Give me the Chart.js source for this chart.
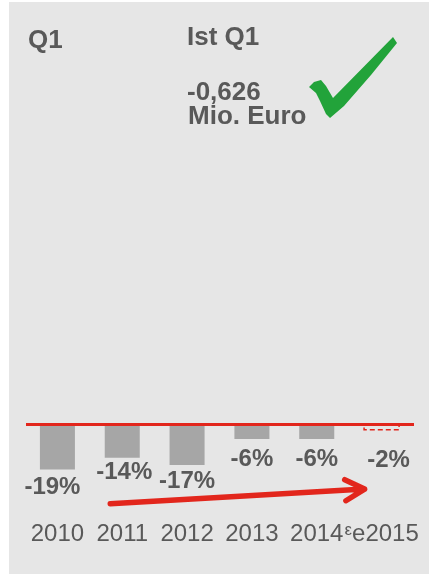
<!DOCTYPE html>
<html>
<head>
<meta charset="utf-8">
<script src="https://cdn.jsdelivr.net/npm/chart.js@4.4.0/dist/chart.umd.min.js"></script>
<style>
    html, body { margin: 0; padding: 0; background: #fff; }
    #panel { position: absolute; left: 9px; top: 2px; width: 420px; height: 572px; background: #e6e6e6; }
    #wrap { position: absolute; left: 0; top: 0; width: 429px; height: 574px; }
    .head { position: absolute; font: bold 26px/26px "Liberation Sans", Arial, sans-serif; color: #595959; white-space: nowrap; }
    #check { position: absolute; left: 0; top: 0; }
</style>
</head>
<body>
<div id="panel"></div>
<div id="wrap"><canvas id="lossChart"></canvas></div>
<div class="head" style="left:28px;top:26px">Q1</div>
<div class="head" style="left:187px;top:23px">Ist Q1</div>
<div class="head" style="left:187px;top:78px">-0,626</div>
<div class="head" style="left:188px;top:102px">Mio. Euro</div>
<svg id="check" width="429" height="150">
    <polygon fill="#22a33a" points="309,87 314,82 321,80 326,86 333,98 393,37 397,43 371,75 344,106 330,118 326,114 320,101 316,93"/>
</svg>
<script>
const years = ['2010', '2011', '2012', '2013', '2014', 'ᵋe2015'];
const changePct = [-19, -14, -17, -6, -6, -2];
const estimated = [false, false, false, false, false, true];

const red = '#e2261c';
const textGray = '#595959';

// small hand nudges so the % labels sit like in the slide
const labelNudge = [[-5, 18], [2, 15], [0, 16], [0, 20], [0, 20], [7, 31]];

const decor = {
    id: 'decor',
    afterDatasetsDraw(chart) {
        const ctx = chart.ctx;
        const area = chart.chartArea;
        const x = chart.scales.x;
        const y = chart.scales.y;
        const bars = chart.getDatasetMeta(0).data;

        ctx.save();

        // dashed outline for the estimate
        bars.forEach(function(bar, i) {
            if (!estimated[i]) return;
            ctx.strokeStyle = red;
            ctx.lineWidth = 1.5;
            ctx.setLineDash([5, 3]);
            ctx.strokeRect(bar.x - bar.width / 2, bar.base, bar.width, bar.y - bar.base);
        });
        ctx.setLineDash([]);

        // zero line
        const zeroY = y.getPixelForValue(0) - 0.5;
        ctx.strokeStyle = red;
        ctx.lineWidth = 3;
        ctx.beginPath();
        ctx.moveTo(area.left + 1, zeroY);
        ctx.lineTo(area.right, zeroY);
        ctx.stroke();

        // value labels
        ctx.fillStyle = textGray;
        ctx.font = 'bold 24px "Liberation Sans", Arial, sans-serif';
        ctx.textAlign = 'center';
        ctx.textBaseline = 'middle';
        bars.forEach(function(bar, i) {
            ctx.fillText(changePct[i] + '%', bar.x + labelNudge[i][0], bar.y + labelNudge[i][1]);
        });

        // trend arrow
        const x0 = x.getPixelForValue(1) - 12;
        const y0 = y.getPixelForValue(-33.5);
        const x1 = x.getPixelForValue(5) - 17;
        const y1 = y.getPixelForValue(-27.3);
        const ang = Math.atan2(y1 - y0, x1 - x0);
        ctx.strokeStyle = red;
        ctx.lineWidth = 5.5;
        ctx.lineCap = 'round';
        ctx.lineJoin = 'round';
        ctx.beginPath();
        ctx.moveTo(x0, y0);
        ctx.lineTo(x1, y1);
        ctx.moveTo(x1 - 22 * Math.cos(ang - 0.5), y1 - 22 * Math.sin(ang - 0.5));
        ctx.lineTo(x1, y1);
        ctx.lineTo(x1 - 22 * Math.cos(ang + 0.5), y1 - 22 * Math.sin(ang + 0.5));
        ctx.stroke();

        ctx.restore();
    }
};

const ctx = document.getElementById('lossChart').getContext('2d');
new Chart(ctx, {
    type: 'bar',
    data: {
        labels: years,
        datasets: [{
            data: changePct,
            backgroundColor: estimated.map(e => e ? 'rgba(0,0,0,0)' : '#a6a6a6'),
            borderWidth: 0,
            categoryPercentage: 0.54,
            barPercentage: 1
        }]
    },
    options: {
        responsive: true,
        maintainAspectRatio: false,
        animation: false,
        layout: { padding: { left: 25, right: 15, top: 425, bottom: 19 } },
        plugins: {
            legend: { display: false },
            tooltip: { enabled: false }
        },
        scales: {
            x: {
                grid: { display: false, drawTicks: false },
                border: { display: false },
                ticks: {
                    color: textGray,
                    font: { family: '"Liberation Sans", Arial, sans-serif', size: 24 },
                    padding: 6,
                    maxRotation: 0,
                    autoSkip: false
                }
            },
            y: { display: false, min: -38, max: 0 }
        }
    },
    plugins: [decor]
});
</script>
</body>
</html>
